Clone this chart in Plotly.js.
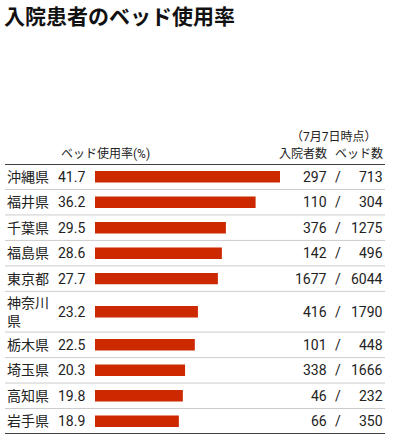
<!DOCTYPE html>
<html>
<head>
<meta charset="utf-8">
<script src="https://cdn.plot.ly/plotly-3.0.1.min.js"></script>
<style>
html,body{margin:0;padding:0;background:#fff;}
#chart{width:393px;height:442px;}
</style>
</head>
<body>
<div id="chart"></div>
<script>
const prefectures = ['沖縄県','福井県','千葉県','福島県','東京都','神奈川県','栃木県','埼玉県','高知県','岩手県'];
const bedRate = [41.7,36.2,29.5,28.6,27.7,23.2,22.5,20.3,19.8,18.9];
const inpatients = [297,110,376,142,1677,416,101,338,46,66];
const beds = [713,304,1275,496,6044,1790,448,1666,232,350];
const titleText = '入院患者のベッド使用率';
const rateHeader = 'ベッド使用率(%)';
const inpHeader = '入院者数';
const bedHeader = 'ベッド数';
const dateNote = '（7月7日時点）';

const W = 393, H = 442;
const px = x => x / W;
const py = y => 1 - y / H;
const FONT = 'Roboto, "Noto Sans CJK JP", sans-serif';
const TXT = '#222';

// row layout: long names wrap onto two lines -> taller row
let cum = 0;
const centers = [], bounds = [0];
prefectures.forEach(p => {
  const h = p.length > 3 ? 1.6 : 1;
  centers.push(cum + h / 2);
  cum += h;
  bounds.push(cum);
});
const maxRate = Math.max(...bedRate);

const trace = {
  type: 'bar',
  orientation: 'h',
  x: bedRate,
  y: centers,
  width: 0.45,
  marker: {color: '#cc2900'},
  hoverinfo: 'none'
};

const annotations = [];
prefectures.forEach((p, i) => {
  const label = p.length > 3 ? p.slice(0, 3) + '<br>' + p.slice(3) : p;
  annotations.push({xref:'paper', yref:'y', x: px(5), y: centers[i], xanchor:'left', yanchor:'middle', align:'left',
    text: label, showarrow:false, font:{family:FONT, size:14, color:TXT}});
  annotations.push({xref:'paper', yref:'y', x: px(87), y: centers[i], xanchor:'right', yanchor:'middle',
    text: bedRate[i].toFixed(1), showarrow:false, font:{family:FONT, size:14, color:TXT}});
  annotations.push({xref:'paper', yref:'y', x: px(329), y: centers[i], xanchor:'right', yanchor:'middle',
    text: String(inpatients[i]), showarrow:false, font:{family:FONT, size:14, color:TXT}});
  annotations.push({xref:'paper', yref:'y', x: px(338), y: centers[i], xanchor:'center', yanchor:'middle',
    text: '/', showarrow:false, font:{family:FONT, size:14, color:TXT}});
  annotations.push({xref:'paper', yref:'y', x: px(385), y: centers[i], xanchor:'right', yanchor:'middle',
    text: String(beds[i]), showarrow:false, font:{family:FONT, size:14, color:TXT}});
});
annotations.push({xref:'paper', yref:'paper', x: px(59), y: py(153), xanchor:'left', yanchor:'middle',
  text: rateHeader, showarrow:false, font:{family:FONT, size:12, color:TXT}});
annotations.push({xref:'paper', yref:'paper', x: px(329), y: py(153), xanchor:'right', yanchor:'middle',
  text: inpHeader, showarrow:false, font:{family:FONT, size:12, color:TXT}});
annotations.push({xref:'paper', yref:'paper', x: px(385), y: py(153), xanchor:'right', yanchor:'middle',
  text: bedHeader, showarrow:false, font:{family:FONT, size:12, color:TXT}});
annotations.push({xref:'paper', yref:'paper', x: px(379), y: py(137), xanchor:'right', yanchor:'middle',
  text: dateNote, showarrow:false, font:{family:FONT, size:12, color:TXT}});

const shapes = [];
bounds.forEach((b, i) => {
  const edge = (i === 0 || i === bounds.length - 1);
  shapes.push({type:'line', xref:'paper', yref:'y', x0: px(5), x1: px(385), y0: b, y1: b,
    line:{color: edge ? '#000' : '#cccccc', width: edge ? 1.5 : 1}});
});

const layout = {
  width: W, height: H,
  margin: {l:0, r:0, t:0, b:0},
  paper_bgcolor: '#fff', plot_bgcolor: '#fff',
  showlegend: false,
  title: {text: '<b>' + titleText + '</b>', x: px(4), xanchor:'left', xref:'paper',
    y: py(17), yanchor:'middle', yref:'paper', font:{family:FONT, size:21, color:'#111'}},
  xaxis: {domain:[px(95), 1], range:[0, maxRate * 298 / 185], visible:false, fixedrange:true},
  yaxis: {domain:[py(434), py(164)], range:[cum, 0], visible:false, fixedrange:true},
  annotations: annotations,
  shapes: shapes
};

Plotly.newPlot('chart', [trace], layout, {staticPlot:true, displayModeBar:false});
</script>
</body>
</html>
